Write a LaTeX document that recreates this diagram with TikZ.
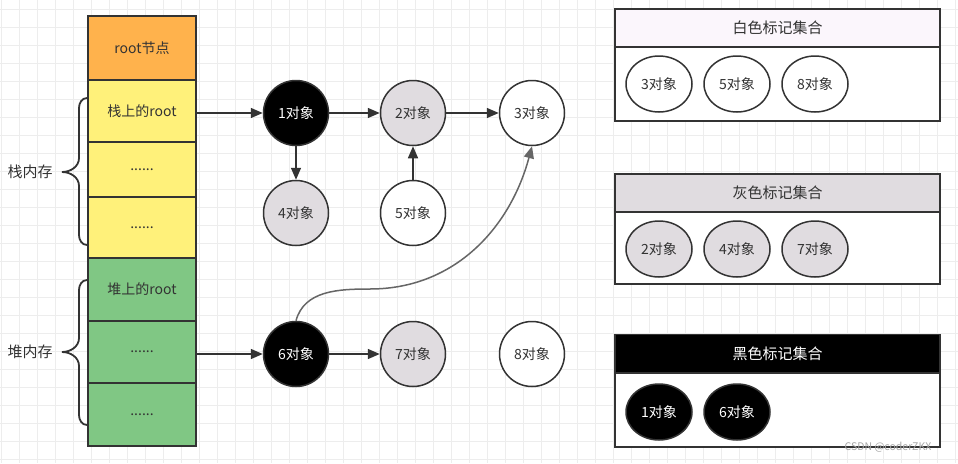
\documentclass[tikz,border=0pt]{standalone}
\usepackage{fontspec}
\setmainfont{Noto Sans CJK SC}
\usetikzlibrary{arrows.meta,shapes.geometric}

\definecolor{rootorange}{HTML}{FFB24C}
\definecolor{stackyellow}{HTML}{FFF17A}
\definecolor{heapgreen}{HTML}{80C784}
\definecolor{markgray}{HTML}{E0DCE0}
\definecolor{markwhite}{HTML}{FBF6FC}
\definecolor{inkgray}{HTML}{333333}
\definecolor{gridgray}{HTML}{EDEDED}

\tikzset{
	cell/.style={draw=inkgray, line width=1.5pt, minimum width=108pt, inner sep=0pt, text=inkgray},
	obj/.style={circle, draw=inkgray, line width=1.5pt, minimum size=65pt, inner sep=0pt, text=inkgray},
	setobj/.style={ellipse, draw=inkgray, line width=1.5pt, minimum width=66pt, minimum height=56pt, inner sep=0pt, text=inkgray},
	sethead/.style={draw=inkgray, line width=1.5pt, minimum width=325pt, minimum height=38pt, inner sep=0pt, text=inkgray, font=\fontsize{15}{17}\selectfont},
	setbody/.style={draw=inkgray, line width=1.5pt, fill=white, minimum width=325pt, inner sep=0pt},
	ref/.style={draw=inkgray, line width=1.5pt, -{Triangle[length=12pt,width=10pt]}},
	bracket/.style={draw=inkgray, line width=1.8pt, line cap=round},
	memlabel/.style={text=inkgray, font=\fontsize{15}{17}\selectfont},
}

\begin{document}
\begin{tikzpicture}[x=1pt, y=-1pt, font=\fontsize{14}{16}\selectfont]
	\useasboundingbox (0,0) rectangle (958,463);
	\fill[white] (0,0) rectangle (958,463);
	\foreach \x in {1,19,...,958}
		\draw[gridgray, line width=0.8pt] (\x,0) -- (\x,463);
	\foreach \y in {9,27,...,463}
		\draw[gridgray, line width=0.8pt] (0,\y) -- (958,\y);

	\node[cell, fill=rootorange, minimum height=64pt] (root) at (142,48) {root节点};
	\node[cell, fill=stackyellow, minimum height=62pt] (sroot) at (142,111) {栈上的root};
	\node[cell, fill=stackyellow, minimum height=55pt] (s2) at (142,169.5) {......};
	\node[cell, fill=stackyellow, minimum height=61pt] (s3) at (142,227.5) {......};
	\node[cell, fill=heapgreen, minimum height=63pt] (hroot) at (142,289.5) {堆上的root};
	\node[cell, fill=heapgreen, minimum height=62pt] (h2) at (142,352) {......};
	\node[cell, fill=heapgreen, minimum height=63pt] (h3) at (142,414.5) {......};

	\draw[bracket] (87,98) to[out=180, in=90] (79,108) -- (79,158) to[out=-90, in=0] (62,172)
		to[out=0, in=90] (79,186) -- (79,235) to[out=-90, in=180] (87,245);
	\node[memlabel] (stack) at (30,172) {栈内存};
	\draw[bracket] (87,280) to[out=180, in=90] (79,290) -- (79,338) to[out=-90, in=0] (62,352)
		to[out=0, in=90] (79,366) -- (79,415) to[out=-90, in=180] (87,425);
	\node[memlabel] (heap) at (30,352) {堆内存};

	\node[obj, fill=black, text=white] (o1) at (296,113) {1对象};
	\node[obj, fill=markgray] (o2) at (413,113) {2对象};
	\node[obj, fill=white] (o3) at (532,113) {3对象};
	\node[obj, fill=markgray] (o4) at (296,213) {4对象};
	\node[obj, fill=white] (o5) at (413,213) {5对象};
	\node[obj, fill=black, text=white] (o6) at (296,354) {6对象};
	\node[obj, fill=markgray] (o7) at (413,354) {7对象};
	\node[obj, fill=white] (o8) at (532,354) {8对象};

	\draw[ref] (sroot.east |- o1) -- (o1);
	\draw[ref] (h2.east |- o6) -- (o6);
	\draw[ref] (o1) -- (o2);
	\draw[ref] (o2) -- (o3);
	\draw[ref] (o1) -- (o4);
	\draw[ref] (o5) -- (o2);
	\draw[ref] (o6) -- (o7);
	\draw[ref, draw=gray!80!black] (o6.north) to[out=75, in=180] (370,289) to[out=0, in=-105] (o3.south);

	\node[sethead, fill=markwhite] (white) at (777.5,28) {白色标记集合};
	\node[setbody, minimum height=74pt] (wbody) at (777.5,84) {};
	\node[setobj, fill=white] (w3) at (659,84) {3对象};
	\node[setobj, fill=white] (w5) at (737,84) {5对象};
	\node[setobj, fill=white] (w8) at (815,84) {8对象};

	\node[sethead, fill=markgray] (grey) at (777.5,193) {灰色标记集合};
	\node[setbody, minimum height=72pt] (gbody) at (777.5,248) {};
	\node[setobj, fill=markgray] (g2) at (659,249) {2对象};
	\node[setobj, fill=markgray] (g4) at (737,249) {4对象};
	\node[setobj, fill=markgray] (g7) at (815,249) {7对象};

	\node[sethead, fill=black, text=white] (black) at (777.5,353.5) {黑色标记集合};
	\node[setbody, minimum height=74pt] (bbody) at (777.5,410) {};
	\node[setobj, fill=black, text=white] (b1) at (659,412) {1对象};
	\node[setobj, fill=black, text=white] (b6) at (737,412) {6对象};

	\node[text=gray!70, font=\fontsize{10.5}{12}\selectfont] (mark) at (888,447) {CSDN @coderZKX};
\end{tikzpicture}
\end{document}
